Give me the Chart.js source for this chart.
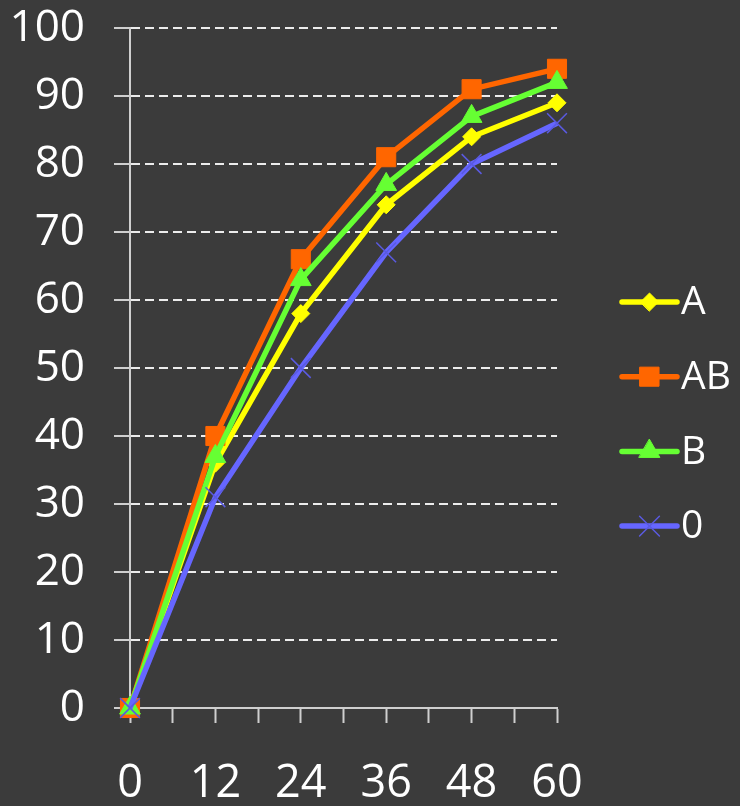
<!DOCTYPE html>
<html>
<head>
<meta charset="utf-8">
<script src="https://cdn.jsdelivr.net/npm/chart.js@4.4.1/dist/chart.umd.min.js"></script>
<style>
  html, body { margin: 0; padding: 0; background: #3b3b3b; }
  canvas { display: block; }
</style>
</head>
<body>
<canvas id="chart" width="740" height="806"></canvas>
<script>
const hours = [0, 12, 24, 36, 48, 60];
const seriesA = [0, 36, 58, 74, 84, 89];
const seriesAB = [0, 40, 66, 81, 91, 94];
const seriesB = [0, 37, 63, 77, 87, 92];
const series0 = [0, 31, 50, 67, 80, 86];

const FONT = "'Open Sans', 'DejaVu Sans', sans-serif";
const WEIGHT = "500";
const AXIS = "#cfcfcf";

function pts(values) {
  return hours.map((h, i) => ({ x: h, y: values[i] }));
}

function line(label, values, color, style, radius, order) {
  return {
    label,
    data: pts(values),
    borderColor: color,
    backgroundColor: color,
    borderWidth: 5.5,
    pointStyle: style,
    pointRadius: radius,
    pointBackgroundColor: color,
    pointBorderColor: color,
    pointBorderWidth: 1,
    tension: 0,
    clip: false,
    order
  };
}

const datasets = [
  line("A", seriesA, "#ffff00", "rectRot", 9, 3),
  line("AB", seriesAB, "#ff6600", "rect", 13.5, 2),
  line("B", seriesB, "#66ff33", "triangle", 12, 1),
  line("0", series0, "#6666ff", "crossRot", 14, 0)
];
datasets[3].pointBorderColor = "#5a5ae0";
datasets[3].pointBorderWidth = 1.5;

// legend on the right: short line with the marker, then the label
const sideLegend = {
  id: "sideLegend",
  afterDraw(chart) {
    const ctx = chart.ctx;
    const x0 = 622, x1 = 677, top = 302, step = 74.7;
    chart.data.datasets.forEach((ds, i) => {
      const y = top + i * step;
      const cx = (x0 + x1) / 2;
      ctx.save();
      ctx.strokeStyle = ds.borderColor;
      ctx.lineWidth = 5.5;
      ctx.lineCap = "round";
      ctx.beginPath();
      ctx.moveTo(x0, y);
      ctx.lineTo(x1, y);
      ctx.stroke();
      ctx.fillStyle = ds.pointBackgroundColor;
      ctx.strokeStyle = ds.pointBorderColor;
      ctx.lineWidth = ds.pointBorderWidth;
      Chart.helpers.drawPoint(ctx, {
        pointStyle: ds.pointStyle,
        radius: ds.pointRadius,
        borderWidth: ds.pointBorderWidth,
        rotation: 0
      }, cx, y);
      ctx.fillStyle = "#ffffff";
      ctx.font = WEIGHT + " 39px " + FONT;
      ctx.textAlign = "left";
      ctx.textBaseline = "middle";
      ctx.fillText(ds.label, x1 + 4, y + 1);
      ctx.restore();
    });
  }
};

new Chart(document.getElementById("chart"), {
  type: "line",
  data: { datasets },
  plugins: [sideLegend],
  options: {
    responsive: false,
    animation: false,
    layout: { padding: { left: 0, right: 183, top: 28, bottom: 0 } },
    plugins: {
      tooltip: { enabled: false },
      legend: { display: false }
    },
    scales: {
      x: {
        type: "linear",
        min: 0,
        max: 60,
        ticks: {
          stepSize: 6,
          autoSkip: false,
          maxRotation: 0,
          color: "#ffffff",
          padding: 34,
          font: { family: FONT, size: 45, weight: WEIGHT },
          callback: v => (v % 12 === 0 ? v : "")
        },
        grid: { drawOnChartArea: false, tickLength: 15, tickColor: AXIS, tickWidth: 2 },
        border: { color: AXIS, width: 2 },
        afterFit(scale) {
          scale.height = 98;
          scale.paddingLeft = 0;
          scale.paddingRight = 0;
        }
      },
      y: {
        min: 0,
        max: 100,
        ticks: {
          stepSize: 10,
          color: "#ffffff",
          padding: 29,
          font: { family: FONT, size: 44, weight: WEIGHT }
        },
        grid: {
          color: c => (c.tick && c.tick.value === 0 ? "rgba(0,0,0,0)" : "#ececec"),
          lineWidth: 2,
          tickLength: 16,
          tickColor: AXIS,
          tickWidth: 2
        },
        border: { color: AXIS, width: 2, dash: [9, 5] },
        afterFit(scale) {
          scale.width = 130;
          scale.paddingTop = 0;
          scale.paddingBottom = 0;
        }
      }
    }
  }
});
</script>
</body>
</html>
